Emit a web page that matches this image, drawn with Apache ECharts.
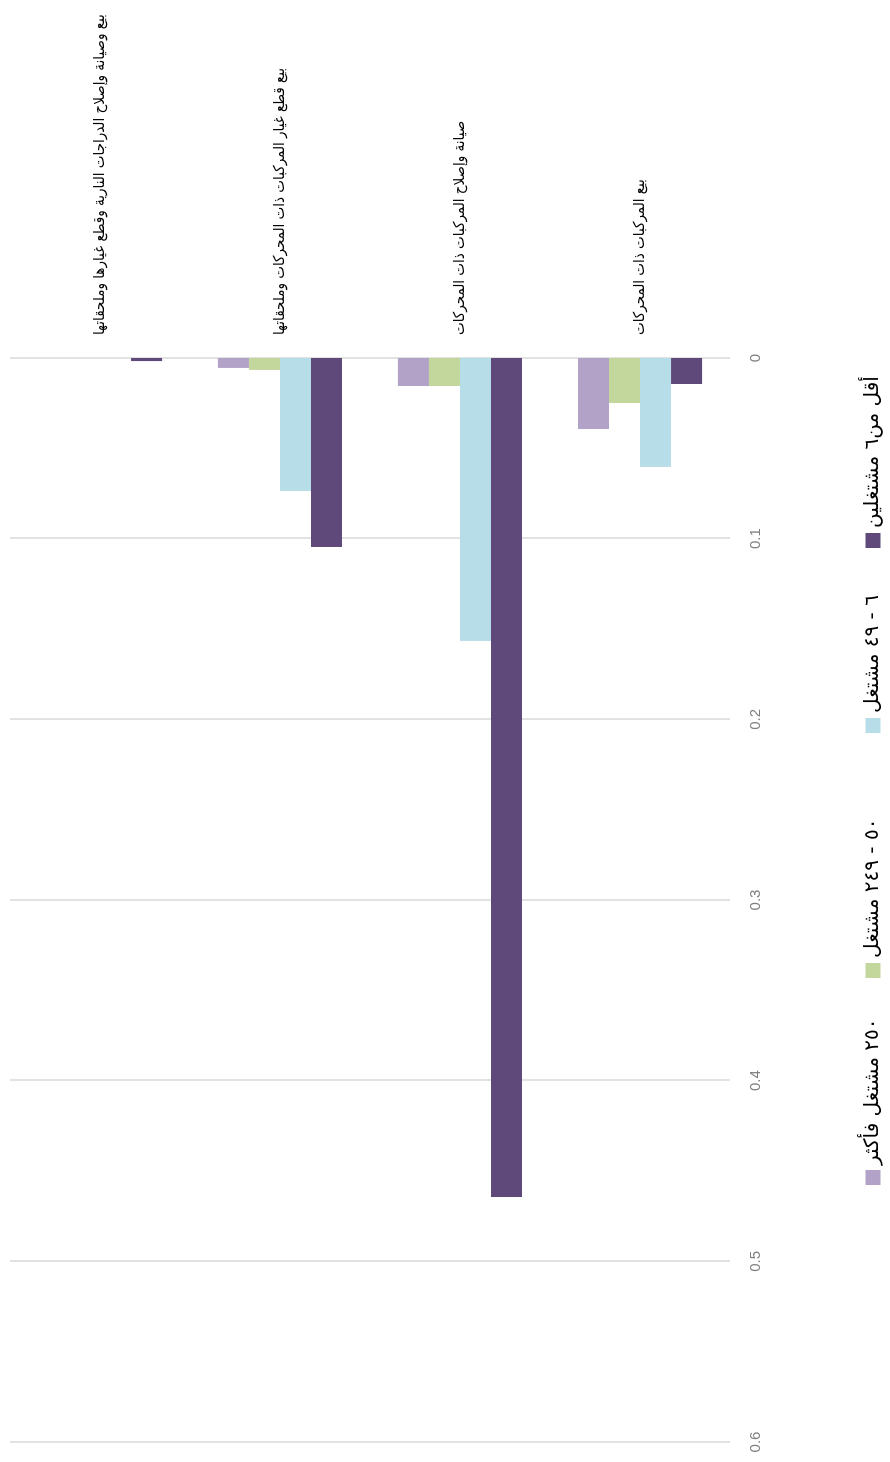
<!DOCTYPE html>
<html><head><meta charset="utf-8">
<script src="https://cdn.jsdelivr.net/npm/echarts@6/dist/echarts.min.js"></script>
<style>
html,body{margin:0;padding:0;background:#fff;overflow:hidden;width:890px;height:1462px;}
#chart{position:absolute;left:0;top:0;width:1462px;height:890px;transform-origin:0 0;transform:translateY(1462px) rotate(-90deg);}
</style></head><body><div id="chart"></div>
<script>
// categories listed bottom -> top of the (unrotated) bar chart
const categories = [
  'بيع المركبات ذات المحركات',
  'صيانة وإصلاح المركبات ذات المحركات',
  'بيع قطع غيار المركبات ذات المحركات وملحقاتها',
  'بيع وصيانة وإصلاح الدراجات النارية وقطع غيارها وملحقاتها'
];
const seriesNames = ['أقل من٦ مشتغلين', '٦ - ٤٩ مشتغل', '٥٠ - ٢٤٩ مشتغل', '٢٥٠ مشتغل فأكثر'];
const lessThan6 = [0.0144, 0.4644, 0.1046, 0.0017];
const from6to49 = [0.0603, 0.1566, 0.0736, 0];
const from50to249 = [0.0249, 0.0155, 0.0066, 0];
const from250 = [0.0393, 0.0155, 0.0055, 0];
const valueTicks = [0, 0.1, 0.2, 0.3, 0.4, 0.5, 0.6];
const colors = ['#5f497a', '#b7dee8', '#c3d69b', '#b3a2c7'];
const seriesData = [lessThan6, from6to49, from50to249, from250];
const legendLeft = [909, 724, 479, 272];

const chart = echarts.init(document.getElementById('chart'));
const legendFont = {fontFamily: 'DejaVu Sans', fontSize: 20, color: '#000'};
const order = [3, 2, 1, 0];
chart.setOption({
  animation: false,
  backgroundColor: '#fff',
  legend: seriesNames.map((n, i) => ({
    data: [n], left: legendLeft[i], top: 858, itemWidth: 15, itemHeight: 15, itemGap: 5,
    icon: 'rect', textStyle: legendFont, selectedMode: false
  })),
  grid: {left: 20, right: 358, top: 10, bottom: 160, containLabel: false},
  xAxis: {
    type: 'value', inverse: true, min: valueTicks[0], max: valueTicks[valueTicks.length - 1], interval: 0.1,
    position: 'bottom',
    axisLine: {show: false}, axisTick: {show: false},
    axisLabel: {margin: 18, color: '#808080', fontSize: 15, fontFamily: 'Liberation Sans Narrow, Liberation Sans, sans-serif'},
    splitLine: {show: true, lineStyle: {color: '#d9d9d9', width: 1.5}}
  },
  yAxis: {
    type: 'category', data: categories, position: 'right',
    axisLine: {show: false}, axisTick: {show: false},
    axisLabel: {margin: 23, color: '#000', fontSize: 15, fontFamily: 'DejaVu Sans Condensed, DejaVu Sans'}
  },
  series: order.map(i => ({
    name: seriesNames[i], type: 'bar', data: seriesData[i], barGap: '0%', barCategoryGap: '31%',
    itemStyle: {color: colors[i]}
  }))
});
</script></body></html>
